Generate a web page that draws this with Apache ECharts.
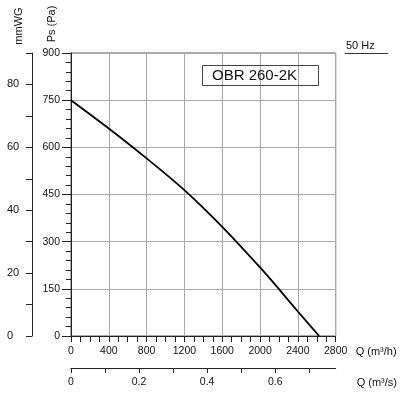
<!DOCTYPE html>
<html><head><meta charset="utf-8">
<script src="https://cdn.jsdelivr.net/npm/echarts@6/dist/echarts.min.js"></script>
<style>html,body{margin:0;padding:0;background:#fff}#c{width:400px;height:400px}</style>
</head><body><div id="c"></div>
<script>
// ---- data ----
const flowM3h = [0, 400, 800, 1200, 1600, 2000, 2200, 2400, 2625];
const pressurePa = [750, 660, 565, 464, 347, 218, 149, 78, 0];
const m3sLabelValues = [0, 0.2, 0.4, 0.6];
const m3sTickValues = [0, 0.1, 0.2, 0.3, 0.4, 0.5, 0.6, 0.7];
const mmwgLabelValues = [0, 20, 40, 60, 80];
const mmwgTickValues = [0, 10, 20, 30, 40, 50, 60, 70, 80, 90];
const modelName = 'OBR 260-2K';
const freqLabel = '50 Hz';
const xName1 = 'Q (m³/h)';
const xName2 = 'Q (m³/s)';
const yName1 = 'Ps (Pa)';
const yName2 = 'mmWG';

const FONT = '"Liberation Sans", Arial, sans-serif';
const txt = { color: '#111', fontFamily: FONT, fontSize: 11 };
const tickTxt = { color: '#111', fontFamily: FONT, fontSize: 10.5 };
const chart = echarts.init(document.getElementById('c'), null, { renderer: 'canvas' });

chart.setOption({
  animation: false,
  backgroundColor: '#fff',
  grid: { left: 71, top: 53, right: 64, bottom: 64, show: true, borderColor: '#555', borderWidth: 1, backgroundColor: 'transparent' },
  title: {
    text: modelName, left: 202, top: 65,
    borderColor: '#444', borderWidth: 1,
    padding: [3, 22, 3, 10],
    textStyle: { fontFamily: FONT, fontSize: 15, fontWeight: 'normal', color: '#111', lineHeight: 15 }
  },
  xAxis: [
    {
      type: 'value', min: 0, max: 2800, interval: 400, position: 'bottom',
      name: xName1, nameLocation: 'end', nameGap: 20,
      nameTextStyle: Object.assign({}, txt, { align: 'left', verticalAlign: 'top', padding: [10, 0, 0, 0] }),
      axisLine: { show: true, onZero: false, lineStyle: { color: '#222', width: 1 } },
      axisTick: { show: true, length: 6, lineStyle: { color: '#222' } },
      minorTick: { show: true, splitNumber: 4, length: 6, lineStyle: { color: '#222' } },
      axisLabel: Object.assign({}, tickTxt, { margin: 10, showMinLabel: true, showMaxLabel: true, formatter: v => String(v) }),
      splitLine: { show: true, lineStyle: { color: '#a8a8a8', width: 1 } }
    },
    {
      type: 'value', min: 0, max: 2800 / 3600, position: 'bottom', offset: 32,
      name: xName2, nameLocation: 'end', nameGap: 21,
      nameTextStyle: Object.assign({}, txt, { align: 'left', verticalAlign: 'top', padding: [9, 0, 0, 0] }),
      axisLine: { show: true, onZero: false, lineStyle: { color: '#222', width: 1 } },
      axisTick: { show: true, length: 5, customValues: m3sTickValues, lineStyle: { color: '#222' } },
      axisLabel: Object.assign({}, tickTxt, { margin: 9, customValues: m3sLabelValues, formatter: v => String(v) }),
      splitLine: { show: false }
    }
  ],
  yAxis: [
    {
      type: 'value', min: 0, max: 900, interval: 150, position: 'left',
      axisLine: { show: true, onZero: false, lineStyle: { color: '#222', width: 1 } },
      axisTick: { show: true, length: 9, lineStyle: { color: '#222' } },
      minorTick: { show: true, splitNumber: 5, length: 5, lineStyle: { color: '#222' } },
      axisLabel: Object.assign({}, tickTxt, { margin: 11 }),
      splitLine: { show: true, lineStyle: { color: '#a8a8a8', width: 1 } }
    },
    {
      type: 'value', min: 0, max: 90, position: 'left', offset: 39,
      axisLine: { show: true, onZero: false, lineStyle: { color: '#222', width: 1 } },
      axisTick: { show: true, length: 6, customValues: mmwgTickValues, lineStyle: { color: '#222' } },
      axisLabel: Object.assign({}, txt, { margin: 25, align: 'left', customValues: mmwgLabelValues }),
      splitLine: { show: false }
    }
  ],
  graphic: [
    { type: 'text', x: 52, y: 24, rotation: Math.PI / 2,
      style: { text: yName1, align: 'center', verticalAlign: 'middle', fill: '#111', font: '11px ' + FONT } },
    { type: 'text', x: 19, y: 26, rotation: Math.PI / 2,
      style: { text: yName2, align: 'center', verticalAlign: 'middle', fill: '#111', font: '11px ' + FONT } },
    { type: 'text', x: 346, y: 46,
      style: { text: freqLabel, align: 'left', verticalAlign: 'middle', fill: '#111', font: '11px ' + FONT } },
    { type: 'line', shape: { x1: 345, y1: 53.5, x2: 388, y2: 53.5 }, style: { stroke: '#333', lineWidth: 1 } }
  ],
  series: [
    {
      type: 'line', xAxisIndex: 0, yAxisIndex: 0,
      data: flowM3h.map((q, i) => [q, pressurePa[i]]),
      smooth: 0.3, showSymbol: false, symbol: 'none',
      lineStyle: { color: '#000', width: 1.8 },
      clip: false
    }
  ]
});
</script></body></html>
